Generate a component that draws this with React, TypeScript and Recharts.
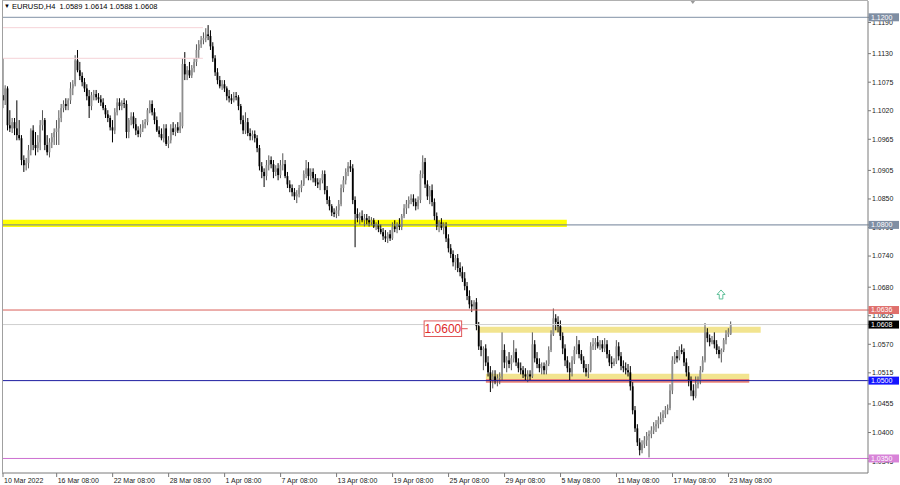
import React from 'react';
import {
  ComposedChart, Bar, XAxis, YAxis, ReferenceLine, ReferenceArea, ReferenceDot,
} from 'recharts';

// EURUSD H4 candles, 10 Mar 2022 12:00 .. 23 May 2022 12:00
const opens = [
  1.1050,1.1040,1.1063,1.0992,1.0986,1.0998,1.0986,1.0973,1.0967,1.0925,
  1.0915,1.0919,1.0944,1.0982,1.0954,1.0948,1.0959,1.0992,1.1002,1.0954,
  1.0940,1.0959,1.0969,1.0979,1.0986,1.1006,1.1025,1.1033,1.1029,1.1040,
  1.1063,1.1071,1.1117,1.1098,1.1087,1.1075,1.1063,1.1048,1.1029,1.1050,
  1.1052,1.1046,1.1042,1.1036,1.1025,1.1013,1.1006,1.0988,1.0982,1.1017,
  1.1036,1.1029,1.1035,1.1033,1.0979,1.1002,1.1009,1.0994,1.0982,1.0975,
  1.0986,1.0994,1.0998,1.1021,1.1033,1.1017,1.1002,1.0982,1.0975,1.0967,
  1.0986,1.0956,1.0963,1.0986,1.0979,1.0988,1.0982,1.0990,1.1110,1.1090,
  1.1098,1.1088,1.1102,1.1114,1.1137,1.1148,1.1156,1.1160,1.1167,1.1164,
  1.1144,1.1121,1.1094,1.1079,1.1067,1.1071,1.1063,1.1048,1.1044,1.1040,
  1.1048,1.1046,1.1029,1.1002,1.0982,1.0998,1.0977,1.0971,1.0975,1.0967,
  1.0948,1.0913,1.0902,1.0894,1.0915,1.0925,1.0917,1.0902,1.0909,1.0896,
  1.0915,1.0917,1.0894,1.0878,1.0871,1.0863,1.0855,1.0859,1.0871,1.0878,
  1.0898,1.0909,1.0894,1.0902,1.0890,1.0882,1.0878,1.0886,1.0898,1.0867,
  1.0848,1.0836,1.0824,1.0821,1.0828,1.0840,1.0871,1.0886,1.0902,1.0913,
  1.0909,1.0848,1.0821,1.0813,1.0817,1.0809,1.0813,1.0809,1.0805,1.0809,
  1.0797,1.0801,1.0792,1.0786,1.0778,1.0774,1.0782,1.0774,1.0797,1.0792,
  1.0801,1.0796,1.0817,1.0832,1.0840,1.0848,1.0851,1.0844,1.0836,1.0848,
  1.0898,1.0921,1.0878,1.0855,1.0867,1.0844,1.0817,1.0797,1.0805,1.0794,
  1.0797,1.0774,1.0755,1.0744,1.0728,1.0736,1.0717,1.0709,1.0697,1.0682,
  1.0663,1.0647,1.0643,1.0651,1.0605,1.0566,1.0559,1.0562,1.0535,1.0516,
  1.0501,1.0508,1.0501,1.0505,1.0508,1.0559,1.0535,1.0539,1.0532,1.0543,
  1.0555,1.0535,1.0524,1.0520,1.0512,1.0508,1.0512,1.0508,1.0570,1.0543,
  1.0532,1.0524,1.0528,1.0520,1.0532,1.0559,1.0589,1.0620,1.0613,1.0605,
  1.0586,1.0562,1.0539,1.0524,1.0516,1.0539,1.0559,1.0570,1.0551,1.0539,
  1.0524,1.0516,1.0520,1.0566,1.0570,1.0574,1.0566,1.0570,1.0562,1.0570,
  1.0551,1.0535,1.0532,1.0537,1.0566,1.0547,1.0528,1.0524,1.0520,1.0516,
  1.0489,1.0443,1.0408,1.0381,1.0366,1.0377,1.0385,1.0393,1.0397,1.0404,
  1.0412,1.0416,1.0424,1.0428,1.0435,1.0443,1.0447,1.0481,1.0539,1.0547,
  1.0543,1.0559,1.0555,1.0535,1.0516,1.0501,1.0481,1.0470,1.0493,1.0501,
  1.0520,1.0539,1.0593,1.0582,1.0574,1.0578,1.0570,1.0559,1.0551,1.0559,
  1.0578,1.0589,1.0589,
];

const highs = [
  1.1121,1.1069,1.1067,1.1021,1.1006,1.1006,1.1040,1.1002,1.0973,1.0934,
  1.0929,1.0954,1.0986,1.0992,1.0979,1.0973,1.1002,1.1021,1.1006,1.0973,
  1.0967,1.0977,1.0986,1.1002,1.1021,1.1033,1.1040,1.1044,1.1044,1.1075,
  1.1079,1.1127,1.1137,1.1114,1.1094,1.1083,1.1071,1.1060,1.1056,1.1060,
  1.1060,1.1054,1.1050,1.1044,1.1031,1.1021,1.1011,1.1002,1.1025,1.1044,
  1.1044,1.1040,1.1044,1.1040,1.1006,1.1017,1.1017,1.1006,1.0990,1.0994,
  1.1002,1.1004,1.1025,1.1040,1.1040,1.1025,1.1009,1.0990,1.0986,1.0994,
  1.0994,1.0971,1.0994,1.0998,1.0994,1.0998,1.1017,1.1121,1.1133,1.1106,
  1.1114,1.1108,1.1121,1.1148,1.1156,1.1164,1.1171,1.1179,1.1185,1.1175,
  1.1152,1.1127,1.1102,1.1087,1.1079,1.1079,1.1067,1.1060,1.1052,1.1056,
  1.1056,1.1050,1.1033,1.1011,1.1017,1.1006,1.0986,1.0982,1.0982,1.0973,
  1.0954,1.0921,1.0909,1.0925,1.0934,1.0932,1.0925,1.0915,1.0919,1.0925,
  1.0938,1.0925,1.0902,1.0886,1.0878,1.0871,1.0867,1.0877,1.0886,1.0905,
  1.0925,1.0921,1.0909,1.0909,1.0898,1.0890,1.0890,1.0905,1.0905,1.0875,
  1.0855,1.0840,1.0832,1.0836,1.0848,1.0878,1.0894,1.0909,1.0921,1.0925,
  1.0917,1.0855,1.0832,1.0824,1.0828,1.0821,1.0821,1.0817,1.0815,1.0813,
  1.0805,1.0809,1.0801,1.0794,1.0790,1.0786,1.0790,1.0805,1.0809,1.0805,
  1.0813,1.0821,1.0840,1.0848,1.0855,1.0859,1.0859,1.0851,1.0855,1.0905,
  1.0934,1.0929,1.0886,1.0875,1.0878,1.0851,1.0824,1.0809,1.0813,1.0805,
  1.0805,1.0782,1.0763,1.0751,1.0742,1.0744,1.0728,1.0720,1.0709,1.0690,
  1.0674,1.0655,1.0655,1.0659,1.0613,1.0578,1.0566,1.0570,1.0547,1.0528,
  1.0520,1.0520,1.0512,1.0516,1.0593,1.0570,1.0547,1.0555,1.0549,1.0578,
  1.0562,1.0543,1.0535,1.0528,1.0524,1.0520,1.0520,1.0593,1.0578,1.0555,
  1.0543,1.0535,1.0535,1.0539,1.0566,1.0597,1.0639,1.0628,1.0624,1.0616,
  1.0593,1.0570,1.0547,1.0535,1.0547,1.0566,1.0586,1.0578,1.0559,1.0547,
  1.0532,1.0532,1.0574,1.0582,1.0582,1.0586,1.0578,1.0578,1.0582,1.0578,
  1.0559,1.0547,1.0543,1.0578,1.0574,1.0555,1.0539,1.0535,1.0532,1.0528,
  1.0497,1.0451,1.0416,1.0389,1.0385,1.0393,1.0401,1.0404,1.0412,1.0420,
  1.0424,1.0431,1.0439,1.0443,1.0451,1.0454,1.0493,1.0547,1.0555,1.0559,
  1.0566,1.0570,1.0562,1.0543,1.0528,1.0508,1.0493,1.0508,1.0508,1.0528,
  1.0547,1.0611,1.0601,1.0589,1.0586,1.0593,1.0578,1.0566,1.0562,1.0582,
  1.0597,1.0601,1.0614,
];

const lows = [
  1.1025,1.1031,1.0982,1.0979,1.0977,1.0973,1.0963,1.0963,1.0915,1.0902,
  1.0905,1.0909,1.0934,1.0944,1.0934,1.0940,1.0944,1.0982,1.0944,1.0934,
  1.0930,1.0948,1.0954,1.0954,1.0954,1.0998,1.1017,1.1021,1.1021,1.1033,
  1.1050,1.1067,1.1094,1.1079,1.1067,1.1056,1.1040,1.1006,1.1021,1.1040,
  1.1040,1.1035,1.1029,1.1021,1.1006,1.0998,1.0982,1.0959,1.0975,1.1011,
  1.1021,1.1021,1.1025,1.0967,1.0967,1.0992,1.0986,1.0973,1.0969,1.0969,
  1.0979,1.0986,1.0992,1.1015,1.1011,1.0994,1.0979,1.0969,1.0963,1.0959,
  1.0952,1.0948,1.0957,1.0973,1.0971,1.0977,1.0977,1.0986,1.1079,1.1079,
  1.1083,1.1083,1.1094,1.1106,1.1121,1.1141,1.1148,1.1152,1.1156,1.1137,
  1.1114,1.1087,1.1071,1.1063,1.1060,1.1056,1.1040,1.1036,1.1033,1.1036,
  1.1040,1.1021,1.0994,1.0975,1.0975,1.0971,1.0963,1.0963,1.0959,1.0940,
  1.0905,1.0890,1.0873,1.0886,1.0905,1.0909,1.0890,1.0894,1.0886,1.0890,
  1.0905,1.0890,1.0871,1.0863,1.0855,1.0848,1.0842,1.0853,1.0863,1.0875,
  1.0890,1.0886,1.0886,1.0882,1.0875,1.0871,1.0867,1.0880,1.0859,1.0840,
  1.0828,1.0817,1.0815,1.0813,1.0817,1.0836,1.0863,1.0878,1.0894,1.0902,
  1.0840,1.0757,1.0805,1.0801,1.0805,1.0797,1.0801,1.0797,1.0799,1.0794,
  1.0790,1.0786,1.0782,1.0771,1.0767,1.0765,1.0769,1.0771,1.0786,1.0784,
  1.0790,1.0790,1.0813,1.0821,1.0832,1.0840,1.0836,1.0828,1.0830,1.0842,
  1.0890,1.0871,1.0848,1.0840,1.0836,1.0809,1.0790,1.0786,1.0790,1.0782,
  1.0767,1.0747,1.0736,1.0720,1.0713,1.0709,1.0701,1.0690,1.0674,1.0655,
  1.0639,1.0632,1.0636,1.0597,1.0559,1.0547,1.0520,1.0528,1.0508,1.0478,
  1.0485,1.0493,1.0489,1.0493,1.0501,1.0524,1.0516,1.0524,1.0520,1.0535,
  1.0528,1.0516,1.0512,1.0505,1.0501,1.0497,1.0501,1.0505,1.0535,1.0524,
  1.0516,1.0512,1.0512,1.0512,1.0528,1.0555,1.0586,1.0597,1.0593,1.0578,
  1.0551,1.0528,1.0516,1.0501,1.0508,1.0532,1.0551,1.0543,1.0532,1.0516,
  1.0508,1.0505,1.0516,1.0559,1.0559,1.0562,1.0559,1.0555,1.0555,1.0543,
  1.0528,1.0524,1.0528,1.0532,1.0539,1.0520,1.0516,1.0512,1.0508,1.0481,
  1.0435,1.0401,1.0374,1.0356,1.0360,1.0370,1.0374,1.0352,1.0389,1.0397,
  1.0401,1.0408,1.0416,1.0420,1.0428,1.0435,1.0443,1.0474,1.0532,1.0535,
  1.0539,1.0551,1.0528,1.0508,1.0489,1.0470,1.0462,1.0466,1.0485,1.0493,
  1.0516,1.0535,1.0574,1.0566,1.0570,1.0562,1.0551,1.0543,1.0535,1.0555,
  1.0570,1.0584,1.0588,
];

const closes = [
  1.1040,1.1063,1.0992,1.0986,1.0998,1.0986,1.0973,1.0967,1.0925,1.0915,
  1.0919,1.0944,1.0982,1.0954,1.0948,1.0959,1.0992,1.1002,1.0954,1.0940,
  1.0959,1.0969,1.0979,1.0986,1.1006,1.1025,1.1033,1.1029,1.1040,1.1063,
  1.1071,1.1117,1.1098,1.1087,1.1075,1.1063,1.1048,1.1029,1.1050,1.1052,
  1.1046,1.1042,1.1036,1.1025,1.1013,1.1006,1.0988,1.0982,1.1017,1.1036,
  1.1029,1.1035,1.1033,1.0979,1.1002,1.1009,1.0994,1.0982,1.0975,1.0986,
  1.0994,1.0998,1.1021,1.1033,1.1017,1.1002,1.0982,1.0975,1.0967,1.0986,
  1.0956,1.0963,1.0986,1.0979,1.0988,1.0982,1.0990,1.1110,1.1090,1.1098,
  1.1088,1.1102,1.1114,1.1137,1.1148,1.1156,1.1160,1.1167,1.1164,1.1144,
  1.1121,1.1094,1.1079,1.1067,1.1071,1.1063,1.1048,1.1044,1.1040,1.1048,
  1.1046,1.1029,1.1002,1.0982,1.0998,1.0977,1.0971,1.0975,1.0967,1.0948,
  1.0913,1.0902,1.0894,1.0915,1.0925,1.0917,1.0902,1.0909,1.0896,1.0915,
  1.0917,1.0894,1.0878,1.0871,1.0863,1.0855,1.0859,1.0871,1.0878,1.0898,
  1.0909,1.0894,1.0902,1.0890,1.0882,1.0878,1.0886,1.0898,1.0867,1.0848,
  1.0836,1.0824,1.0821,1.0828,1.0840,1.0871,1.0886,1.0902,1.0913,1.0909,
  1.0848,1.0821,1.0813,1.0817,1.0809,1.0813,1.0809,1.0805,1.0809,1.0797,
  1.0801,1.0792,1.0786,1.0778,1.0774,1.0782,1.0774,1.0797,1.0792,1.0801,
  1.0796,1.0817,1.0832,1.0840,1.0848,1.0851,1.0844,1.0836,1.0848,1.0898,
  1.0921,1.0878,1.0855,1.0867,1.0844,1.0817,1.0797,1.0805,1.0794,1.0797,
  1.0774,1.0755,1.0744,1.0728,1.0736,1.0717,1.0709,1.0697,1.0682,1.0663,
  1.0647,1.0643,1.0651,1.0605,1.0566,1.0559,1.0562,1.0535,1.0516,1.0501,
  1.0508,1.0501,1.0505,1.0508,1.0559,1.0535,1.0539,1.0532,1.0543,1.0555,
  1.0535,1.0524,1.0520,1.0512,1.0508,1.0512,1.0508,1.0570,1.0543,1.0532,
  1.0524,1.0528,1.0520,1.0532,1.0559,1.0589,1.0620,1.0613,1.0605,1.0586,
  1.0562,1.0539,1.0524,1.0516,1.0539,1.0559,1.0570,1.0551,1.0539,1.0524,
  1.0516,1.0520,1.0566,1.0570,1.0574,1.0566,1.0570,1.0562,1.0570,1.0551,
  1.0535,1.0532,1.0537,1.0566,1.0547,1.0528,1.0524,1.0520,1.0516,1.0489,
  1.0443,1.0408,1.0381,1.0366,1.0377,1.0385,1.0393,1.0397,1.0404,1.0412,
  1.0416,1.0424,1.0428,1.0435,1.0443,1.0447,1.0481,1.0539,1.0547,1.0543,
  1.0559,1.0555,1.0535,1.0516,1.0501,1.0481,1.0470,1.0493,1.0501,1.0520,
  1.0539,1.0593,1.0582,1.0574,1.0578,1.0570,1.0559,1.0551,1.0559,1.0578,
  1.0589,1.0593,1.0608,
];

// bar index of each time label
const timeTicks = [0, 23, 47, 71, 95, 119, 143, 167, 191, 215, 239, 263, 287, 311];
const timeLabels = [
  '10 Mar 2022', '16 Mar 08:00', '22 Mar 08:00', '28 Mar 08:00', '1 Apr 08:00',
  '7 Apr 08:00', '13 Apr 08:00', '19 Apr 08:00', '25 Apr 08:00', '29 Apr 08:00',
  '5 May 08:00', '11 May 08:00', '17 May 08:00', '23 May 08:00',
];
const priceTicks = [
  1.1190, 1.1130, 1.1075, 1.1020, 1.0965, 1.0905, 1.0850, 1.0795,
  1.0740, 1.0680, 1.0625, 1.0570, 1.0515, 1.0455, 1.0400, 1.0345,
];

// drawn levels
const topLevel = 1.12;
const midLevel = 1.08;
const redLevel = 1.0636;
const blueLevel = 1.05;
const floorLevel = 1.035;
const pinkLevels = [1.118, 1.1121];
const markLevel = 1.06;

const FONT = '"Liberation Sans", Arial, sans-serif';
const last = closes.length - 1;
const PRICE_DOMAIN = [1.0322, 1.12314];

const tagLevels = [topLevel, midLevel, redLevel, closes[last], blueLevel, floorLevel];
const tagColors = ['#7f8ea3', '#7f8ea3', '#df6f6c', '#000', '#1414ff', '#d883d8'];
// tags come after the plain ticks so they are painted over them
const axisTicks = [...priceTicks, ...tagLevels];

const data = opens.map((o, i) => ({
  i, o, h: highs[i], l: lows[i], c: closes[i], hl: [lows[i], highs[i]],
}));

const Candle = (props: any) => {
  const { x, y, width, height, payload } = props;
  if (!payload || height == null) return null;
  const { o, h, l, c } = payload;
  const top = Math.min(y, y + height);
  const span = Math.abs(height);
  const range = h - l || 1e-9;
  const py = (v: number) => top + ((h - v) / range) * span;
  const cx = x + width / 2;
  const b1 = py(Math.max(o, c));
  const b2 = py(Math.min(o, c));
  const up = c >= o;
  return (
    <g>
      <line x1={cx} x2={cx} y1={top} y2={top + span} stroke={up ? '#555' : '#000'} strokeWidth={1} />
      <rect x={cx - 0.9} y={b1} width={1.8} height={Math.max(b2 - b1, 0.8)} fill={up ? '#8e8e8e' : '#000'} />
    </g>
  );
};

const TimeTick = (props: any) => {
  const { x, y, payload } = props;
  const k = timeTicks.indexOf(payload.value);
  return (
    <g>
      <line x1={x} x2={x} y1={y} y2={y + 4} stroke="#7a7a7a" />
      <text x={x + 1} y={y + 9.5} fontSize={7} fill="#222" fontFamily={FONT}>{timeLabels[k]}</text>
    </g>
  );
};

const PriceTick = (props: any) => {
  const { x, y, payload } = props;
  const k = tagLevels.indexOf(payload.value);
  if (k < 0) {
    return (
      <text x={x} y={y} dy="0.35em" fontSize={7} fill="#222" fontFamily={FONT}>
        {payload.value.toFixed(4)}
      </text>
    );
  }
  const left = x - 3.5;
  return (
    <g>
      <rect x={left} y={y - 4} width={30.5} height={8} fill={tagColors[k]} />
      <text x={left + 2.5} y={y} dy="0.35em" fontSize={7} fill="#fff" fontFamily={FONT}>
        {tagLevels[k].toFixed(4)}
      </text>
    </g>
  );
};

const MarkLabel = (props: any) => {
  const vb = props.viewBox;
  if (!vb) return null;
  return (
    <g>
      <rect x={vb.x - 37.5} y={vb.y - 7.8} width={37.5} height={15.6} fill="#fff" stroke="#e05a5a" strokeWidth={1} />
      <text x={vb.x - 18.7} y={vb.y} dy="0.36em" textAnchor="middle" fontSize={12} fill="#e02a2a" fontFamily={FONT}>
        {markLevel.toFixed(4)}
      </text>
    </g>
  );
};

const UpArrow = (props: any) => {
  const { cx, cy } = props;
  const d = `M${cx},${cy - 4.5} L${cx + 4},${cy} L${cx + 1.8},${cy} L${cx + 1.8},${cy + 4.5} L${cx - 1.8},${cy + 4.5} L${cx - 1.8},${cy} L${cx - 4},${cy} Z`;
  return <path d={d} fill="#fff" stroke="#5dbf98" strokeWidth={1} />;
};

const TopMark = (props: any) => {
  const { cx, cy } = props;
  return <path d={`M${cx - 3},${cy - 1} L${cx + 3},${cy - 1} L${cx},${cy + 3} Z`} fill="#9a9a9a" />;
};

export default function App() {
  return (
    <div style={{ position: 'absolute', left: 0, top: 0, width: 900, height: 485, background: '#fff' }}>
      <ComposedChart
        width={900}
        height={485}
        data={data}
        margin={{ top: 1, right: 0, bottom: 0, left: 2 }}
      >
        <ReferenceArea x1={-0.43} x2={241.7} y1={1.0796} y2={1.0810} fill="#ffff00" fillOpacity={1} stroke="none" />
        <ReferenceArea x1={203.5} x2={324.8} y1={1.0592} y2={1.0604} fill="#f2e48f" fillOpacity={1} stroke="none" />
        <ReferenceArea x1={207} x2={319.9} y1={1.0503} y2={1.0513} fill="#f2e48f" fillOpacity={1} stroke="none" />
        <ReferenceArea x1={207} x2={319.9} y1={1.0496} y2={1.0503} fill="#ec8678" fillOpacity={1} stroke="none" />
        {pinkLevels.map((p) => (
          <ReferenceLine key={p} segment={[{ x: -0.43, y: p }, { x: 85.7, y: p }]} stroke="#f6d3d8" strokeWidth={1} />
        ))}
        <XAxis
          dataKey="i"
          type="number"
          domain={[-0.43, 370.8]}
          allowDataOverflow
          ticks={timeTicks}
          interval={0}
          height={12}
          tickSize={0}
          tickMargin={0}
          tickLine={false}
          axisLine={{ stroke: '#7a7a7a' }}
          tick={<TimeTick />}
        />
        <YAxis
          orientation="right"
          type="number"
          domain={PRICE_DOMAIN}
          allowDataOverflow
          ticks={axisTicks}
          interval={0}
          width={32}
          tickSize={3}
          tickMargin={1}
          axisLine={{ stroke: '#7a7a7a' }}
          tickLine={{ stroke: '#7a7a7a' }}
          tick={<PriceTick />}
        />
        <Bar dataKey="hl" barSize={2} shape={<Candle />} isAnimationActive={false} />
        <ReferenceLine y={topLevel} stroke="#8191a6" />
        <ReferenceLine y={midLevel} stroke="#6f7f96" />
        <ReferenceLine y={redLevel} stroke="#d9605a" />
        <ReferenceLine y={closes[last]} stroke="#cfcfcf" />
        <ReferenceLine y={blueLevel} stroke="#1c1ca0" />
        <ReferenceLine y={floorLevel} stroke="#cc6fd0" />
        <ReferenceLine
          segment={[{ x: 196.6, y: markLevel }, { x: 199.2, y: markLevel }]}
          stroke="#e05050"
          label={{ content: MarkLabel }}
        />
        <ReferenceDot x={307.8} y={1.0666} r={0} shape={<UpArrow />} />
        <ReferenceDot x={295.7} y={PRICE_DOMAIN[1]} r={0} ifOverflow="visible" shape={<TopMark />} />
      </ComposedChart>
      <div
        style={{
          position: 'absolute', left: 2, top: 0, width: 866, height: 473, boxSizing: 'border-box',
          borderLeft: '1px solid #a0a0a0', borderTop: '1px solid #b0b0b0', pointerEvents: 'none',
        }}
      />
      <span style={{ position: 'absolute', left: 4, top: 2, fontSize: 6, lineHeight: '9px', fontFamily: FONT }}>▼</span>
      <span
        style={{
          position: 'absolute', left: 12, top: 2, fontSize: 7.5, lineHeight: '9px', fontFamily: FONT,
          color: '#000', whiteSpace: 'pre',
        }}
      >
        {`EURUSD,H4  ${opens[last].toFixed(4)} ${highs[last].toFixed(4)} ${lows[last].toFixed(4)} ${closes[last].toFixed(4)}`}
      </span>
    </div>
  );
}
